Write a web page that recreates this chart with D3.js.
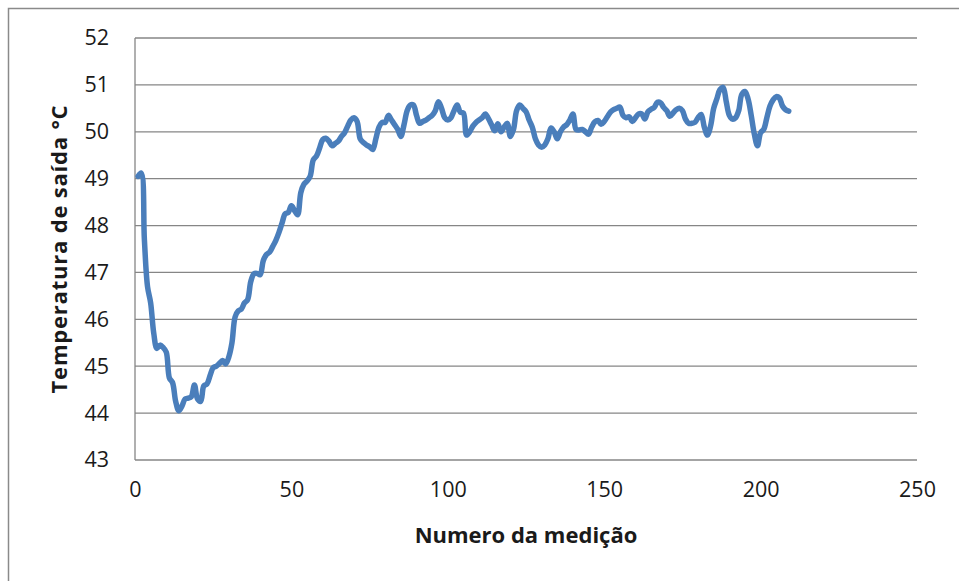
<!DOCTYPE html>
<html>
<head>
<meta charset="utf-8">
<script src="https://cdn.jsdelivr.net/npm/d3@7"></script>
<style>
  html, body { margin: 0; padding: 0; background: #fff; }
  svg { display: block; }
</style>
</head>
<body>
<svg id="chart" width="959" height="581"></svg>
<script>
// ---- data ----
const xTicks = [0, 50, 100, 150, 200, 250];
const yTicks = [43, 44, 45, 46, 47, 48, 49, 50, 51, 52];
const xTitle = "Numero da medição";
const yTitle = "Temperatura de saída °C";
// Temperature for measurement 1..209
const temperatures = [
  49.05, 49.12, 47.7, 46.7, 46.35, 45.7, 45.38, 45.45, 45.4, 45.3,
  44.75, 44.65, 44.25, 44.05, 44.15, 44.3, 44.32, 44.35, 44.6, 44.3,
  44.25, 44.58, 44.62, 44.8, 44.97, 45.0, 45.06, 45.12, 45.05, 45.2,
  45.5, 46.05, 46.18, 46.22, 46.35, 46.42, 46.8, 46.97, 46.98, 46.95,
  47.25, 47.38, 47.43, 47.55, 47.68, 47.85, 48.05, 48.25, 48.28, 48.42,
  48.32, 48.23, 48.7, 48.88, 48.95, 49.05, 49.4, 49.48, 49.65, 49.83,
  49.86, 49.8, 49.7, 49.75, 49.8, 49.9, 49.98, 50.12, 50.25, 50.3,
  50.22, 49.85, 49.77, 49.72, 49.68, 49.62, 49.85, 50.1, 50.2, 50.2,
  50.35, 50.25, 50.15, 50.05, 49.9, 50.15, 50.45, 50.57, 50.57, 50.35,
  50.18, 50.22, 50.25, 50.3, 50.35, 50.45, 50.64, 50.5, 50.3, 50.25,
  50.3, 50.45, 50.57, 50.42, 50.4, 49.93, 50.0, 50.12, 50.2, 50.25,
  50.3, 50.38, 50.28, 50.15, 50.02, 50.17, 50.0, 50.1, 50.18, 49.9,
  50.05, 50.45, 50.57, 50.5, 50.43, 50.25, 50.1, 49.85, 49.72, 49.67,
  49.72, 49.85, 50.08, 50.0, 49.85, 50.0, 50.1, 50.15, 50.25, 50.38,
  50.05, 50.04, 50.05, 50.0, 49.95, 50.1, 50.21, 50.24, 50.16, 50.22,
  50.32, 50.42, 50.47, 50.5, 50.53, 50.35, 50.3, 50.32, 50.22, 50.3,
  50.38, 50.38, 50.27, 50.43, 50.48, 50.52, 50.63, 50.62, 50.52, 50.45,
  50.33, 50.4, 50.47, 50.5, 50.45, 50.27, 50.18, 50.18, 50.2, 50.3,
  50.37, 50.1, 49.93, 50.12, 50.5, 50.7, 50.9, 50.95, 50.65, 50.35,
  50.27, 50.3, 50.45, 50.8, 50.86, 50.7, 50.35, 49.95, 49.7, 49.98,
  50.05, 50.3, 50.55, 50.68, 50.75, 50.72, 50.55, 50.47, 50.44
];
const measurements = temperatures.map((_, i) => i + 1);

// ---- layout ----
const svg = d3.select("#chart");
const plot = { left: 135, right: 917, top: 38, bottom: 460 };
const font = "'Open Sans', 'Noto Sans', sans-serif";

// outer chart border (extends beyond the window on right/bottom)
svg.append("rect")
  .attr("x", 8.5).attr("y", 8.5)
  .attr("width", 1000).attr("height", 700)
  .attr("fill", "none").attr("stroke", "#8a8a8a").attr("stroke-width", 1.5);

const x = d3.scaleLinear().domain([0, 250]).range([plot.left, plot.right]);
const y = d3.scaleLinear().domain([43, 52]).range([plot.bottom, plot.top]);

// gridlines
svg.append("g")
  .selectAll("line")
  .data(yTicks)
  .join("line")
  .attr("x1", plot.left).attr("x2", plot.right)
  .attr("y1", d => y(d)).attr("y2", d => y(d))
  .attr("stroke", "#868686").attr("stroke-width", 1.3);

// y axis line
svg.append("line")
  .attr("x1", plot.left).attr("x2", plot.left)
  .attr("y1", plot.top).attr("y2", plot.bottom)
  .attr("stroke", "#868686").attr("stroke-width", 1.3);

// y axis labels
const yAxis = d3.axisLeft(y).tickValues(yTicks).tickSize(0).tickPadding(26).tickFormat(d3.format("d"));
const gy = svg.append("g").attr("transform", `translate(${plot.left},0)`).call(yAxis);
gy.select(".domain").remove();
gy.selectAll("text")
  .attr("font-family", font).attr("font-size", 21.5).attr("fill", "#1a1a1a");

// x axis labels
const xAxis = d3.axisBottom(x).tickValues(xTicks).tickSize(0).tickPadding(22).tickFormat(d3.format("d"));
const gx = svg.append("g").attr("transform", `translate(0,${plot.bottom})`).call(xAxis);
gx.select(".domain").remove();
gx.selectAll("text")
  .attr("font-family", font).attr("font-size", 21.5).attr("fill", "#1a1a1a");

// line
const line = d3.line()
  .x((d, i) => x(measurements[i]))
  .y(d => y(d))
  .curve(d3.curveCatmullRom.alpha(0.5));

svg.append("path")
  .datum(temperatures)
  .attr("d", line)
  .attr("fill", "none")
  .attr("stroke", "#4a7ebb")
  .attr("stroke-width", 5.5)
  .attr("stroke-linejoin", "round")
  .attr("stroke-linecap", "round");

// axis titles
svg.append("text")
  .attr("x", 526).attr("y", 543)
  .attr("text-anchor", "middle")
  .attr("font-family", font).attr("font-weight", "bold").attr("font-size", 22)
  .attr("fill", "#1a1a1a")
  .text(xTitle);

svg.append("text")
  .attr("transform", "translate(67,249) rotate(-90)")
  .attr("text-anchor", "middle")
  .attr("font-family", font).attr("font-weight", "bold").attr("font-size", 22)
  .attr("letter-spacing", 0.8)
  .attr("fill", "#1a1a1a")
  .text(yTitle);
</script>
</body>
</html>
